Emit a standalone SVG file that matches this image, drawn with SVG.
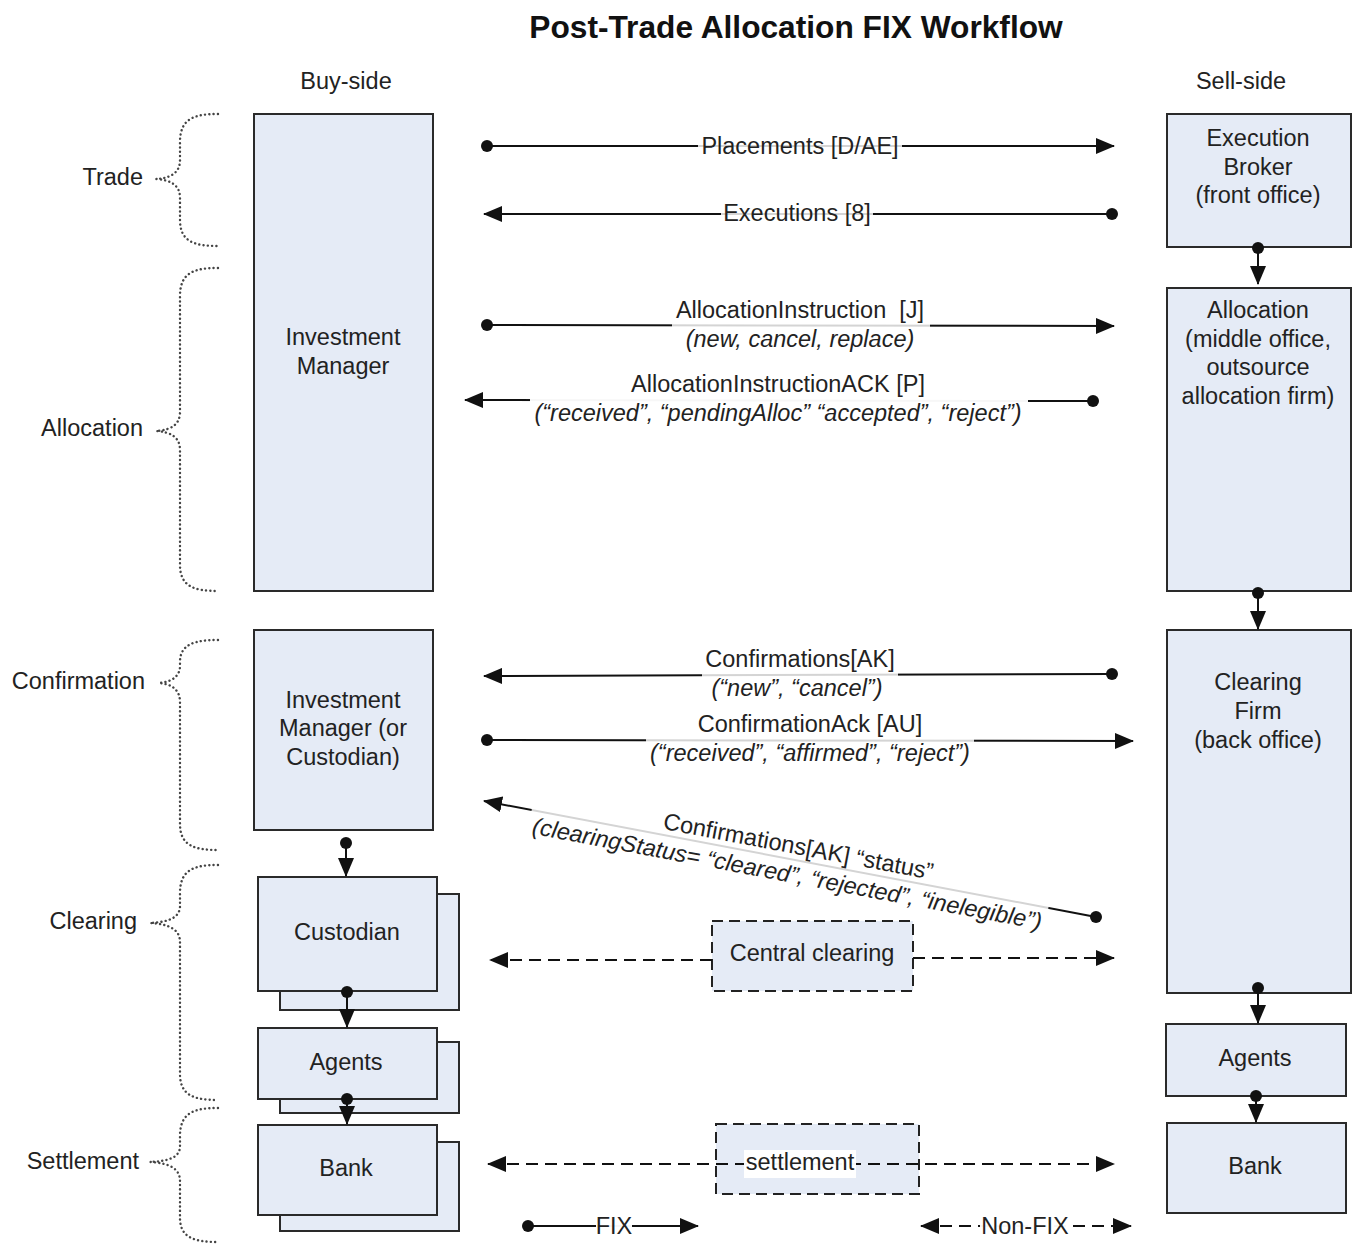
<svg xmlns="http://www.w3.org/2000/svg" width="1356" height="1245" viewBox="0 0 1356 1245">
<defs>
<style>
text{font-family:"Liberation Sans",Arial,sans-serif;font-size:23.5px;fill:#222;text-anchor:middle}
.title{font-weight:bold;font-size:31.7px;fill:#111}
.side{text-anchor:end}
.it{font-style:italic}
.box{fill:#E5EBF6;stroke:#2a2a2a;stroke-width:2}
.dbox{fill:#E5EBF6;stroke:#222;stroke-width:2;stroke-dasharray:11 6}
.brace{fill:none;stroke:#444;stroke-width:2.4;stroke-linecap:round;stroke-dasharray:0.1 4.2}
.ln{fill:none;stroke:#111;stroke-width:2;marker-end:url(#ah)}
.dl{fill:none;stroke:#111;stroke-width:2;stroke-dasharray:12 7;marker-end:url(#ah)}
.dl2{fill:none;stroke:#111;stroke-width:2;stroke-dasharray:12 7;marker-end:url(#ah);marker-start:url(#ah)}
.dot{fill:#111}
.bg{fill:#fff;opacity:0.82}
.bgs{fill:#fff;opacity:0.97}
</style>
<marker id="ah" viewBox="0 0 19 16" refX="18" refY="8" markerWidth="19" markerHeight="16" markerUnits="userSpaceOnUse" orient="auto-start-reverse">
<path d="M0,0 L19,8 L0,16 z" fill="#111"/>
</marker>
</defs>
<rect width="1356" height="1245" fill="#fff"/>
<text class="title" x="796" y="38">Post-Trade Allocation FIX Workflow</text>
<text x="346" y="89">Buy-side</text>
<text x="1241" y="89">Sell-side</text>

<g id="phases">
<g id="phase-trade"><path class="brace" d="M218,114 C195,114 180,118 180,142 L180,160 C180,172 172,178 156,179 C172,180 180,186 180,198 L180,220 C180,242 195,246 218,246"/><text class="side" x="143" y="185">Trade</text></g>
<g id="phase-allocation"><path class="brace" d="M218,268 C195,268 180,272 180,296 L180,412 C180,424 172,430 156,431 C172,432 180,438 180,450 L180,565 C180,587 195,591 218,591"/><text class="side" x="143" y="436">Allocation</text></g>
<g id="phase-confirmation"><path class="brace" d="M218,640 C195,640 180,644 180,662 L180,666 C180,676 172,682 159,683 C172,684 180,690 180,702 L180,824 C180,846 195,850 218,850"/><text class="side" x="145" y="689">Confirmation</text></g>
<g id="phase-clearing"><path class="brace" d="M218,865 C195,865 180,869 180,893 L180,906 C180,917 170,922 150,923 C170,924 180,930 180,942 L180,1074 C180,1096 195,1100 218,1100"/><text class="side" x="137" y="929">Clearing</text></g>
<g id="phase-settlement"><path class="brace" d="M218,1108 C195,1108 180,1112 180,1136 L180,1146 C180,1157 170,1161 150,1162 C170,1163 180,1169 180,1181 L180,1218 C180,1238 195,1242 218,1242"/><text class="side" x="139" y="1169">Settlement</text></g>
</g>

<g id="nodes">
<g id="investment-manager"><rect class="box" x="254" y="114" width="179" height="477"/><text x="343" y="345">Investment</text><text x="343" y="374">Manager</text></g>
<g id="execution-broker"><rect class="box" x="1167" y="114" width="184" height="133"/><text x="1258" y="146">Execution</text><text x="1258" y="175">Broker</text><text x="1258" y="203">(front office)</text></g>
<g id="allocation"><rect class="box" x="1167" y="288" width="184" height="303"/><text x="1258" y="318">Allocation</text><text x="1258" y="347">(middle office,</text><text x="1258" y="375">outsource</text><text x="1258" y="404">allocation firm)</text></g>
<g id="investment-manager-custodian"><rect class="box" x="254" y="630" width="179" height="200"/><text x="343" y="708">Investment</text><text x="343" y="736">Manager (or</text><text x="343" y="765">Custodian)</text></g>
<g id="clearing-firm"><rect class="box" x="1167" y="630" width="184" height="363"/><text x="1258" y="690">Clearing</text><text x="1258" y="719">Firm</text><text x="1258" y="748">(back office)</text></g>
<g id="custodian"><rect class="box" x="280" y="894" width="179" height="116"/><rect class="box" x="258" y="877" width="179" height="114"/><text x="347" y="940">Custodian</text></g>
<g id="agents-buy"><rect class="box" x="280" y="1042" width="179" height="71"/><rect class="box" x="258" y="1028" width="179" height="71"/><text x="346" y="1070">Agents</text></g>
<g id="bank-buy"><rect class="box" x="280" y="1142" width="179" height="89"/><rect class="box" x="258" y="1125" width="179" height="90"/><text x="346" y="1176">Bank</text></g>
<g id="agents-sell"><rect class="box" x="1166" y="1024" width="180" height="72"/><text x="1255" y="1066">Agents</text></g>
<g id="bank-sell"><rect class="box" x="1167" y="1123" width="179" height="90"/><text x="1255" y="1174">Bank</text></g>
<g id="central-clearing"><rect class="dbox" x="712" y="921" width="201" height="70"/><text x="812" y="961">Central clearing</text></g>
<g id="settlement"><rect class="dbox" x="716" y="1124" width="203" height="70"/></g>
</g>

<g id="connectors">
<line class="ln" x1="487" y1="146" x2="1114" y2="146"/><circle class="dot" cx="487" cy="146" r="6"/>
<rect class="bg" x="698" y="132" width="204" height="28"/><text x="800" y="154">Placements [D/AE]</text>

<line class="ln" x1="1112" y1="214" x2="484" y2="214"/><circle class="dot" cx="1112" cy="214" r="6"/>
<rect class="bg" x="721" y="200" width="152" height="28"/><text x="797" y="221">Executions [8]</text>

<line class="ln" x1="487" y1="325" x2="1114" y2="326"/><circle class="dot" cx="487" cy="325" r="6"/>
<rect class="bg" x="672" y="297" width="258" height="56"/><text x="800" y="318" xml:space="preserve">AllocationInstruction  [J]</text><text class="it" x="800" y="347">(new, cancel, replace)</text>

<line class="ln" x1="1093" y1="401" x2="465" y2="400"/><circle class="dot" cx="1093" cy="401" r="6"/>
<rect class="bgs" x="530" y="371" width="498" height="57"/><text x="778" y="392">AllocationInstructionACK [P]</text><text class="it" x="778" y="421">(“received”, “pendingAlloc” “accepted”, “reject”)</text>

<line class="ln" x1="1112" y1="674" x2="484" y2="676"/><circle class="dot" cx="1112" cy="674" r="6"/>
<rect class="bg" x="702" y="646" width="196" height="56"/><text x="800" y="667">Confirmations[AK]</text><text class="it" x="797" y="696">(“new”, “cancel”)</text>

<line class="ln" x1="487" y1="740" x2="1133" y2="741"/><circle class="dot" cx="487" cy="740" r="6"/>
<rect class="bg" x="646" y="711" width="328" height="56"/><text x="810" y="732">ConfirmationAck [AU]</text><text class="it" x="810" y="761">(“received”, “affirmed”, “reject”)</text>

<line class="ln" x1="1096" y1="917" x2="484" y2="801"/><circle class="dot" cx="1096" cy="917" r="6"/>
<g transform="rotate(10.7 790 859)"><rect class="bg" x="527" y="831" width="526" height="56"/><text x="796" y="853">Confirmations[AK] “status”</text><text class="it" x="790" y="882">(clearingStatus= “cleared”, “rejected”, “inelegible”)</text></g>

<line class="dl" x1="712" y1="960" x2="490" y2="960"/>
<line class="dl" x1="913" y1="958" x2="1114" y2="958"/>

<line class="dl2" x1="488" y1="1164" x2="1114" y2="1164"/>
<rect class="bgs" x="744" y="1150" width="112" height="28"/><text x="800" y="1170">settlement</text>

<line class="ln" x1="1258" y1="248" x2="1258" y2="284"/><circle class="dot" cx="1258" cy="248" r="6"/>
<line class="ln" x1="1258" y1="593" x2="1258" y2="629"/><circle class="dot" cx="1258" cy="593" r="6"/>
<line class="ln" x1="1258" y1="988" x2="1258" y2="1023"/><circle class="dot" cx="1258" cy="988" r="6"/>
<line class="ln" x1="1256" y1="1096" x2="1256" y2="1122"/><circle class="dot" cx="1256" cy="1096" r="6"/>
<line class="ln" x1="346" y1="843" x2="346" y2="876"/><circle class="dot" cx="346" cy="843" r="6"/>
<line class="ln" x1="347" y1="992" x2="347" y2="1027"/><circle class="dot" cx="347" cy="992" r="6"/>
<line class="ln" x1="347" y1="1099" x2="347" y2="1124"/><circle class="dot" cx="347" cy="1099" r="6"/>
</g>

<g id="legend">
<line class="ln" x1="528" y1="1226" x2="698" y2="1226"/><circle class="dot" cx="528" cy="1226" r="6"/>
<rect class="bgs" x="596" y="1213" width="36" height="26"/><text x="614" y="1234">FIX</text>
<line class="dl2" x1="921" y1="1226" x2="1131" y2="1226"/>
<rect class="bgs" x="980" y="1213" width="90" height="26"/><text x="1025" y="1234">Non-FIX</text>
</g>
</svg>
